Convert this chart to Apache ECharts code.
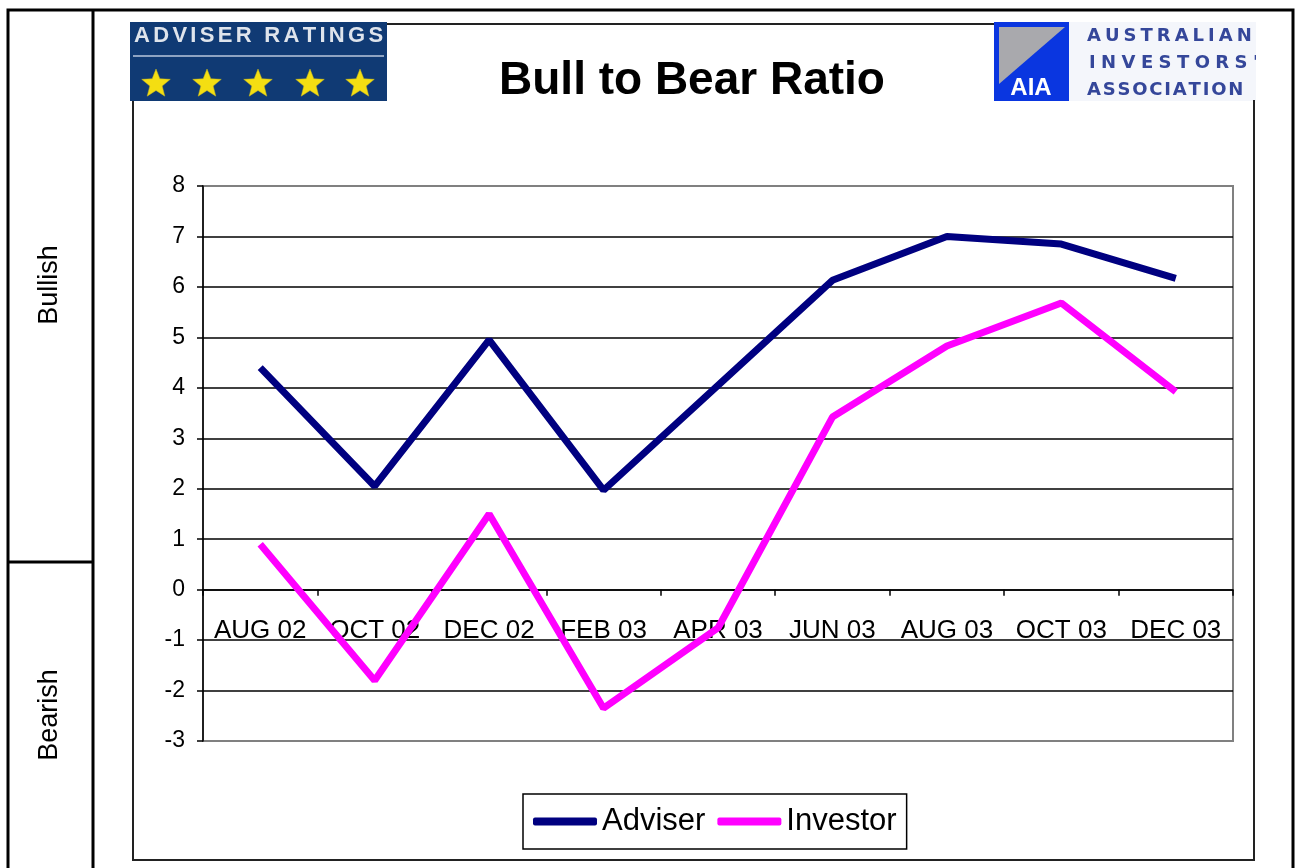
<!DOCTYPE html>
<html>
<head>
<meta charset="utf-8">
<script src="https://cdn.jsdelivr.net/npm/echarts@6/dist/echarts.min.js"></script>
<style>
html,body{margin:0;padding:0;background:#fff;}
#chart{width:1298px;height:868px;}
</style>
</head>
<body>
<div id="chart"></div>
<script>
const categories = ['AUG 02','OCT 02','DEC 02','FEB 03','APR 03','JUN 03','AUG 03','OCT 03','DEC 03'];
const adviser = [4.4, 2.05, 4.95, 1.97, 4.05, 6.13, 7.0, 6.85, 6.17];
const investor = [0.9, -1.8, 1.5, -2.35, -0.76, 3.42, 4.83, 5.68, 3.92];
const seriesNames = ['Adviser', 'Investor'];
const yTicks = { min: -3, max: 8, interval: 1 };

const FONT = "'Liberation Sans', Arial, sans-serif";
const GRID = { left: 203, right: 65, top: 186, bottom: 127 };
const plotH = 868 - GRID.top - GRID.bottom;
const zeroOffset = -(0 - yTicks.min) / (yTicks.max - yTicks.min) * plotH;

function spaced(str, x, y, font, spacing, color) {
  const ctx = document.createElement('canvas').getContext('2d');
  ctx.font = font;
  const els = [];
  let cx = x;
  for (const ch of str) {
    els.push({ type: 'text', x: cx, y: y, z: 20,
      style: { text: ch, font: font, fill: color, align: 'left', verticalAlign: 'middle' } });
    cx += ctx.measureText(ch).width + spacing;
  }
  return els;
}

function starPoints(cx, cy, R, r) {
  const pts = [];
  for (let i = 0; i < 10; i++) {
    const a = -Math.PI / 2 + i * Math.PI / 5;
    const rad = i % 2 === 0 ? R : r;
    pts.push([cx + rad * Math.cos(a), cy + rad * Math.sin(a)]);
  }
  return pts;
}

const graphics = [];
// outer frame and left column
graphics.push({ type: 'rect', z: 10, shape: { x: 8, y: 10, width: 1285, height: 900 },
  style: { fill: 'none', stroke: '#000', lineWidth: 3 } });
graphics.push({ type: 'line', z: 10, shape: { x1: 93, y1: 10, x2: 93, y2: 868 },
  style: { stroke: '#000', lineWidth: 3 } });
graphics.push({ type: 'line', z: 10, shape: { x1: 8, y1: 562, x2: 93, y2: 562 },
  style: { stroke: '#000', lineWidth: 3 } });
graphics.push({ type: 'text', z: 10, x: 50, y: 285, rotation: Math.PI / 2,
  style: { text: 'Bullish', font: '27px ' + FONT, fill: '#000', align: 'center', verticalAlign: 'middle' } });
graphics.push({ type: 'text', z: 10, x: 50, y: 715, rotation: Math.PI / 2,
  style: { text: 'Bearish', font: '27px ' + FONT, fill: '#000', align: 'center', verticalAlign: 'middle' } });
// inner chart frame
graphics.push({ type: 'rect', z: 1, shape: { x: 133, y: 24, width: 1121, height: 836 },
  style: { fill: 'none', stroke: '#222', lineWidth: 2 } });
// title
graphics.push({ type: 'text', z: 10, x: 692, y: 81,
  style: { text: 'Bull to Bear Ratio', font: 'bold 46px ' + FONT, fill: '#000', align: 'center', verticalAlign: 'middle' } });

// left logo (Adviser Ratings)
graphics.push({ type: 'rect', z: 15, shape: { x: 130, y: 22, width: 257, height: 79 },
  style: { fill: '#103a74' } });
graphics.push(...spaced('ADVISER RATINGS', 134, 36, 'bold 22px ' + FONT, 3.3, '#dfe4ec'));
graphics.push({ type: 'line', z: 20, shape: { x1: 133, y1: 56, x2: 384, y2: 56 },
  style: { stroke: '#8ea3c2', lineWidth: 2 } });
[156, 207, 258, 310, 360].forEach(cx => {
  graphics.push({ type: 'polygon', z: 20, shape: { points: starPoints(cx, 84, 15, 6.5) },
    style: { fill: '#f4de12', stroke: '#c9b820', lineWidth: 0.5 } });
});

// right logo (AIA)
graphics.push({ type: 'rect', z: 15, shape: { x: 1069, y: 22, width: 190, height: 79 },
  style: { fill: '#f4f6fb' } });
graphics.push({ type: 'rect', z: 15, shape: { x: 994, y: 22, width: 75, height: 79 },
  style: { fill: '#0a36e0' } });
graphics.push({ type: 'polygon', z: 16, shape: { points: [[999, 27], [1065, 27], [999, 84]] },
  style: { fill: '#a9a9ad' } });
graphics.push({ type: 'text', z: 17, x: 1031, y: 88,
  style: { text: 'AIA', font: 'bold 24px ' + FONT, fill: '#fff', align: 'center', verticalAlign: 'middle' } });
const LOGO_FONT = "bold 18px 'DejaVu Sans', sans-serif";
graphics.push(...spaced('AUSTRALIAN', 1087, 36, LOGO_FONT, 4.0, '#35479a'));
graphics.push(...spaced("INVESTORS'", 1089, 63, LOGO_FONT, 5.4, '#35479a'));
graphics.push(...spaced('ASSOCIATION', 1087, 90, LOGO_FONT, 1.8, '#35479a'));
graphics.push({ type: 'rect', z: 21, shape: { x: 1256, y: 18, width: 35, height: 90 },
  style: { fill: '#fff' } });
graphics.push({ type: 'line', z: 22, shape: { x1: 1254, y1: 100, x2: 1254, y2: 860 },
  style: { stroke: '#222', lineWidth: 2 } });

const splitColors = [];
for (let v = yTicks.min; v <= yTicks.max; v += yTicks.interval) {
  splitColors.push(v === yTicks.min || v === yTicks.max ? '#808080' : '#000');
}

const chart = echarts.init(document.getElementById('chart'), null, { renderer: 'canvas' });
chart.setOption({
  backgroundColor: '#fff',
  animation: false,
  textStyle: { fontFamily: FONT },
  grid: { left: GRID.left, right: GRID.right, top: GRID.top, bottom: GRID.bottom, show: true,
    borderColor: '#808080', borderWidth: 2, backgroundColor: 'transparent' },
  legend: {
    data: seriesNames,
    left: 523, top: 794,
    padding: [12, 10, 12, 10],
    itemGap: 12,
    itemWidth: 64, itemHeight: 8,
    icon: 'roundRect',
    borderColor: '#000', borderWidth: 1.5,
    textStyle: { fontSize: 31, color: '#000', fontFamily: FONT }
  },
  xAxis: {
    type: 'category',
    data: categories,
    boundaryGap: true,
    offset: zeroOffset,
    axisLine: { onZero: false, lineStyle: { color: '#000', width: 1.5 } },
    axisTick: { show: true, inside: false, length: 6, alignWithLabel: false, lineStyle: { color: '#000', width: 1.5 } },
    axisLabel: { margin: 28, fontSize: 26, color: '#000', fontFamily: FONT, interval: 0 },
    splitLine: { show: false }
  },
  yAxis: {
    type: 'value',
    min: yTicks.min, max: yTicks.max, interval: yTicks.interval,
    axisLine: { show: true, onZero: false, lineStyle: { color: '#000', width: 1.5 } },
    axisTick: { show: true, inside: false, length: 6, lineStyle: { color: '#000', width: 1.5 } },
    axisLabel: { margin: 18, fontSize: 23, color: '#000', fontFamily: FONT },
    splitLine: { show: true, lineStyle: { color: splitColors, width: 1.5 } }
  },
  series: [
    { name: seriesNames[0], type: 'line', data: adviser, symbol: 'none', color: '#000080',
      lineStyle: { width: 7, color: '#000080' }, z: 3 },
    { name: seriesNames[1], type: 'line', data: investor, symbol: 'none', color: '#ff00ff',
      lineStyle: { width: 7, color: '#ff00ff' }, z: 3 }
  ],
  graphic: graphics
});
</script>
</body>
</html>
